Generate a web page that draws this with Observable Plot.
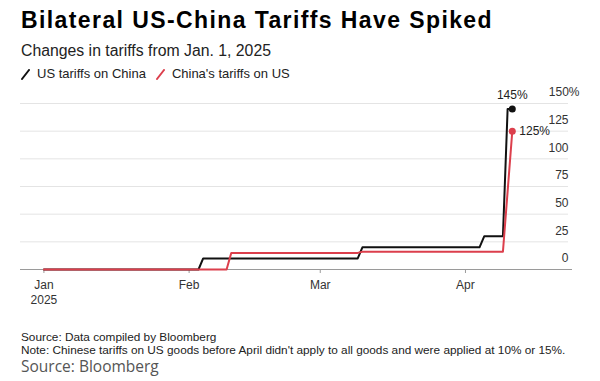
<!DOCTYPE html>
<html>
<head>
<meta charset="utf-8">
<script src="https://cdn.jsdelivr.net/npm/d3@7"></script>
<script src="https://cdn.jsdelivr.net/npm/@observablehq/plot@0.6"></script>
<style>
  html, body { margin: 0; padding: 0; background: #fff; width: 600px; height: 381px; overflow: hidden; }
  body { position: relative; font-family: "Liberation Sans", Arial, sans-serif; color: #111; }
  .abs { position: absolute; left: 21px; white-space: nowrap; }
  #title { top: 6px; font-size: 23px; line-height: 28px; font-weight: bold; letter-spacing: 1.4px; color: #000; }
  #subtitle { top: 42px; font-size: 15.8px; line-height: 18px; color: #222; }
  #legend { top: 66px; font-size: 13px; line-height: 16px; color: #222; display: flex; align-items: center; }
  #legend .item { display: flex; align-items: center; margin-right: 10px; }
  #legend svg { margin-right: 7px; }
  #chart { position: absolute; left: 0; top: 85px; }
  #source { top: 330px; font-size: 11.8px; line-height: 14px; color: #222; }
  #note { top: 343px; font-size: 11.8px; line-height: 14px; color: #222; }
  #credit { top: 357px; font-size: 15.5px; line-height: 18px; color: #555; font-family: "Open Sans", sans-serif; }
</style>
</head>
<body>
<div id="title" class="abs">Bilateral US-China Tariffs Have Spiked</div>
<div id="subtitle" class="abs">Changes in tariffs from Jan. 1, 2025</div>
<div id="legend" class="abs"></div>
<div id="chart"></div>
<div id="source" class="abs">Source: Data compiled by Bloomberg</div>
<div id="note" class="abs">Note: Chinese tariffs on US goods before April didn't apply to all goods and were applied at 10% or 15%.</div>
<div id="credit" class="abs">Source: Bloomberg</div>
<script>
// ---- data ----
const seriesNames = ["US tariffs on China", "China's tariffs on US"];
const seriesColors = ["#111111", "#dc3f4c"];

const usDates = ["2025-01-01","2025-02-03","2025-02-04","2025-03-09","2025-03-10","2025-04-04","2025-04-05","2025-04-09","2025-04-10","2025-04-11"];
const usValues = [0, 0, 10, 10, 20, 20, 30, 30, 145, 145];

const cnDates = ["2025-01-01","2025-02-09","2025-02-10","2025-03-09","2025-03-10","2025-04-09","2025-04-11"];
const cnValues = [0, 0, 15, 15, 16, 16, 125];

const yTicks = [0, 25, 50, 75, 100, 125];
const yTopTick = 150;
const monthTicks = ["2025-01-01","2025-02-01","2025-03-01","2025-04-01"];
const monthLabels = ["Jan\n2025","Feb","Mar","Apr"];

// ---- build ----
const parse = d3.utcParse("%Y-%m-%d");
const us = usDates.map((d, i) => ({date: parse(d), value: usValues[i], series: seriesNames[0]}));
const cn = cnDates.map((d, i) => ({date: parse(d), value: cnValues[i], series: seriesNames[1]}));
const usLast = us[us.length - 1];
const cnLast = cn[cn.length - 1];
const tickDates = monthTicks.map(parse);
const labelOf = new Map(tickDates.map((d, i) => [+d, monthLabels[i]]));

// legend
const legend = document.getElementById("legend");
seriesNames.forEach((name, i) => {
  const item = document.createElement("div");
  item.className = "item";
  item.innerHTML = `<svg width="9" height="11"><line x1="1" y1="10" x2="8" y2="1" stroke="${seriesColors[i]}" stroke-width="2" stroke-linecap="round"/></svg><span>${name}</span>`;
  legend.appendChild(item);
});

const chart = Plot.plot({
  width: 600,
  height: 224,
  marginTop: 18,
  marginBottom: 40,
  marginLeft: 20,
  marginRight: 32,
  style: {fontFamily: "Liberation Sans, Arial, sans-serif", fontSize: "12px", color: "#333", background: "#fff"},
  x: {type: "utc", domain: [parse("2024-12-27"), parse("2025-04-23")], label: null},
  y: {domain: [0, 150], label: null},
  marks: [
    Plot.ruleY(yTicks.slice(1).concat([yTopTick]), {stroke: "#e4e4e4", strokeWidth: 1}),
    Plot.ruleY([0], {stroke: "#9a9a9a", strokeWidth: 1.2, insetRight: -4}),
    Plot.axisX({ticks: tickDates, tickFormat: d => labelOf.get(+d), tickSize: 4, tickPadding: 5, stroke: "#9a9a9a", fill: "#333", lineHeight: 1.25, fontSize: 12, label: null}),
    Plot.axisY({anchor: "right", ticks: yTicks, tickSize: 0, tickPadding: 0, textAnchor: "end", dy: -11, fill: "#333", fontSize: 12, label: null}),
    Plot.axisY({anchor: "right", ticks: [yTopTick], tickSize: 0, tickPadding: 0, textAnchor: "end", dx: 11, dy: -11, tickFormat: d => d + "%", fill: "#333", fontSize: 12, label: null}),
    Plot.line(us, {x: "date", y: "value", stroke: seriesColors[0], strokeWidth: 2, strokeLinejoin: "round"}),
    Plot.line(cn, {x: "date", y: "value", stroke: seriesColors[1], strokeWidth: 2, strokeLinejoin: "round"}),
    Plot.dot([usLast], {x: "date", y: "value", r: 3.5, fill: seriesColors[0]}),
    Plot.dot([cnLast], {x: "date", y: "value", r: 3.5, fill: seriesColors[1]}),
    Plot.text([usLast], {x: "date", y: "value", text: d => d.value + "%", dy: -14, fill: "#222", fontSize: 12}),
    Plot.text([cnLast], {x: "date", y: "value", text: d => d.value + "%", dx: 7, textAnchor: "start", fill: "#222", fontSize: 12})
  ]
});
document.getElementById("chart").appendChild(chart);
</script>
</body>
</html>
